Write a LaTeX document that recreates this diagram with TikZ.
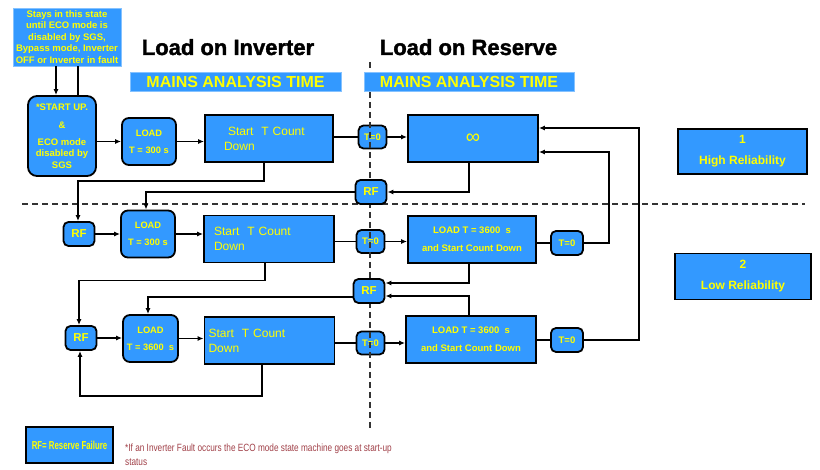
\documentclass[tikz,border=0pt]{standalone}
\usepackage{fontspec}
\usepackage{graphicx}
\setmainfont{Liberation Sans}
\setsansfont{Liberation Sans}
\newfontfamily\titlefont{Liberation Sans}[BoldFeatures={FakeBold=1.6}]
\usetikzlibrary{arrows.meta}
\definecolor{boxblue}{RGB}{51,153,255}
\definecolor{ytext}{RGB}{255,255,0}
\definecolor{footred}{RGB}{160,64,72}
\begin{document}
\begin{tikzpicture}[x=1pt,y=-1pt,
  bbox/.style={draw=black,line width=1.8pt,fill=boxblue,text=ytext,inner sep=2pt,align=center},
  rbox/.style={bbox,rounded corners=5pt},
  lightbox/.style={fill=boxblue,draw=boxblue!60!white,line width=0.6pt,text=ytext,align=center,inner sep=1pt},
  loadbox/.style={rbox,rounded corners=7pt,minimum width=54pt,minimum height=47pt,font=\fontsize{9.3}{17}\selectfont\bfseries},
  cntbox/.style={bbox,minimum width=128pt,minimum height=47pt,text width=120pt,inner sep=4pt,align=left,font=\fontsize{12}{15}\selectfont},
  tzbox/.style={rbox,minimum width=28pt,minimum height=23pt,inner sep=1pt,font=\fontsize{9.5}{10}\selectfont\bfseries},
  rfbox/.style={rbox,minimum width=31pt,minimum height=24pt,inner sep=1pt,font=\fontsize{11.5}{12}\selectfont\bfseries},
  resbox/.style={bbox,minimum width=128pt,minimum height=47pt,font=\fontsize{9.5}{18}\selectfont\bfseries},
  relbox/.style={bbox,font=\fontsize{12}{21}\selectfont\bfseries},
  mainsbar/.style={lightbox,minimum width=211pt,minimum height=19pt,inner sep=0pt,font=\fontsize{16}{16}\selectfont\bfseries},
  titletext/.style={anchor=base,inner sep=0pt,font=\fontsize{22}{22}\selectfont\titlefont\bfseries},
  conn/.style={line width=1.4pt,draw=black},
  arr/.style={conn,-{Latex[length=6pt,width=5pt]}},
  dsh/.style={line width=1.2pt,draw=black!80,dash pattern=on 6pt off 4pt}
]
\useasboundingbox (0,0) rectangle (820,470);

% T=0 nodes (under the dashed line)
\node[tzbox] (t1) at (372.5,137) {T=0};
\node[tzbox] (t2) at (370.5,241.5) {T=0};
\node[tzbox] (t3) at (370.5,343) {T=0};

% dashed separators
\draw[dsh] (370,62) -- (370,428);
\draw[dsh] (22,204) -- (805,204);

% titles
\node[titletext] (tit1) at (228,55) {Load on Inverter};
\node[titletext] (tit2) at (468.5,55) {Load on Reserve};
\node[mainsbar] (mains1) at (235.5,81.5) {MAINS ANALYSIS TIME};
\node[mainsbar,minimum width=210pt] (mains2) at (469,81.5) {MAINS ANALYSIS TIME};

% left column
\node[lightbox,minimum width=108pt,minimum height=58pt,font=\fontsize{9.5}{11.6}\selectfont\bfseries] (stays) at (67,37)
  {Stays in this state\\until ECO mode is\\disabled by SGS,\\Bypass mode, Inverter\\OFF or Inverter in fault};
\node[rbox,rounded corners=9pt,minimum width=68pt,minimum height=80pt,font=\fontsize{9.5}{11.5}\selectfont\bfseries] (start) at (62,136)
  {*START UP.\\[7pt]\&\\[5pt]ECO mode\\disabled by\\SGS};

\node[loadbox] (load1) at (149,141.5) {LOAD\\T = 300 s};
\node[loadbox] (load2) at (148,234) {LOAD\\T = 300 s};
\node[loadbox,minimum width=55pt] (load3) at (150.5,338.5) {LOAD\\T = 3600\ \ s};

\node[cntbox] (cnt1) at (269,138.5) {\hspace*{19pt}Start\ \ T Count\\\hspace*{15pt}Down};
\node[cntbox,minimum width=130pt,text width=122pt] (cnt2) at (269,239) {\hspace*{6pt}Start\ \ T Count\\\hspace*{6pt}Down};
\node[cntbox,minimum width=130pt,text width=122pt] (cnt3) at (269.5,340.5) {Start\ \ T Count\\Down};

\node[rfbox] (rf2) at (79,234) {RF};
\node[rfbox] (rf4) at (81,338) {RF};

% reserve column
\node[bbox,minimum width=130pt,minimum height=47pt,font=\fontsize{20}{20}\selectfont] (inf) at (473,138.5) {\raisebox{-2.5pt}{\char"221E}};
\node[resbox] (r2) at (472,239.5) {LOAD T = 3600\ \ s\\and Start Count Down};
\node[resbox,minimum width=130pt] (r3) at (471,339.5) {LOAD T = 3600\ \ s\\and Start Count Down};

\node[rfbox] (rf1) at (371,192) {RF};
\node[rfbox] (rf3) at (369,291) {RF};

\node[tzbox,minimum width=32pt,minimum height=24pt] (t2r) at (567,243) {T=0};
\node[tzbox,minimum width=32pt,minimum height=24pt] (t3r) at (567,340) {T=0};

% reliability boxes
\node[relbox,minimum width=129pt,minimum height=45pt] (rel1) at (742.5,151.5) {1\\High Reliability};
\node[relbox,minimum width=136pt,minimum height=46pt] (rel2) at (743,276.5) {2\\Low Reliability};

% key and footnote
\node[bbox,minimum width=87pt,minimum height=36pt,font=\fontsize{11.5}{12}\selectfont\bfseries] (rfkey) at (69.5,445)
  {\scalebox{0.68}[1]{RF= Reserve Failure}};
\node[anchor=base west,inner sep=0pt,text=footred,font=\fontsize{10.5}{12}\selectfont] (foot1) at (125,451)
  {\scalebox{0.785}[1]{*If an Inverter Fault occurs the ECO mode state machine goes at start-up}};
\node[anchor=base west,inner sep=0pt,text=footred,font=\fontsize{10.5}{12}\selectfont] (foot2) at (125,466)
  {\scalebox{0.785}[1]{status}};

% connectors
\draw[arr] ([xshift=-11pt]stays.south) -- ([xshift=-6pt]start.north);
\draw[conn] ([xshift=11pt]stays.south) -- ([xshift=16pt]start.north);
\draw[arr] (start.east |- load1.west) -- (load1.west);
\draw[arr] (load1.east) -- (load1.east -| cnt1.west);
\draw[conn] (cnt1.east |- t1.west) -- (t1.west);
\draw[arr] (t1.east) -- (t1.east -| inf.west);
\draw[arr] ([xshift=-4pt]inf.south) |- (rf1.east);
\draw[arr] (rf1.west) -| ([xshift=-2pt]load2.north);
\draw[arr] ([xshift=-5pt]cnt1.south) -- ++(0,18) -| ([xshift=-1pt]rf2.north);

\draw[arr] (rf2.east) -- (rf2.east -| load2.west);
\draw[arr] (load2.east) -- (load2.east -| cnt2.west);
\draw[conn] (cnt2.east |- t2.west) -- (t2.west);
\draw[arr] (t2.east) -- (t2.east -| r2.west);
\draw[conn] (r2.east |- t2r.west) -- (t2r.west);
\draw[arr] (t2r.east) -- ++(25,0) |- ([yshift=-13.5pt]inf.east);
\draw[arr] ([xshift=-3pt]r2.south) |- ([yshift=8pt]rf3.east);
\draw[arr] ([xshift=-2pt]r3.north) |- ([yshift=-5pt]rf3.east);
\draw[arr] ([yshift=-6pt]rf3.west) -| ([xshift=-2.5pt]load3.north);
\draw[arr] ([xshift=-4pt]cnt2.south) -- ++(0,17) -| ([xshift=-2pt]rf4.north);

\draw[arr] (rf4.east) -- (rf4.east -| load3.west);
\draw[arr] (load3.east) -- (load3.east -| cnt3.west);
\draw[conn] (cnt3.east |- t3.west) -- (t3.west);
\draw[arr] (t3.east) -- (t3.east -| r3.west);
\draw[conn] (r3.east |- t3r.west) -- (t3r.west);
\draw[arr] (t3r.east) -- ++(55,0) |- ([yshift=10.5pt]inf.east);
\draw[arr] ([xshift=-7.5pt]cnt3.south) -- ++(0,31) -| ([xshift=-1pt]rf4.south);
\end{tikzpicture}
\end{document}
